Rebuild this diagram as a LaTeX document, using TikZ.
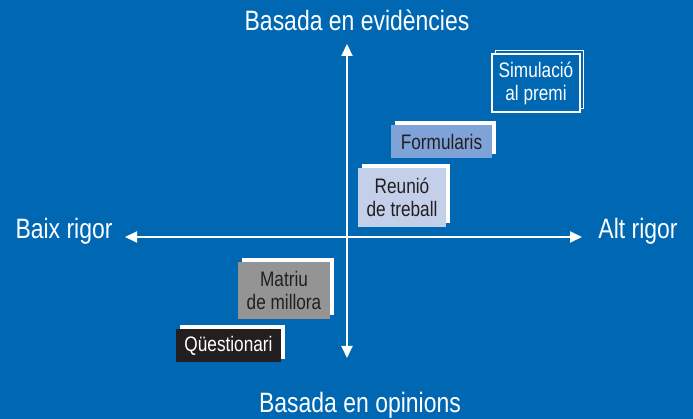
\documentclass[tikz,border=0pt]{standalone}
\usepackage{fontspec}
\setmainfont{Liberation Sans}[FakeStretch=0.82]
\usetikzlibrary{arrows.meta,shadows}
\definecolor{bg}{HTML}{0068B3}
\definecolor{formc}{HTML}{7FA2D8}
\definecolor{reunc}{HTML}{C4D0EA}
\definecolor{matc}{HTML}{949494}
\definecolor{darkc}{HTML}{231F20}
\newcommand{\axfont}{\fontsize{28}{30}\selectfont}
\newcommand{\bxfont}{\fontsize{21}{23}\selectfont}
\begin{document}
\begin{tikzpicture}[x=1pt,y=-1pt,
  axislabel/.style={text=white,font=\axfont,anchor=base,inner sep=0pt},
  qbox/.style={rectangle,inner sep=0pt,align=center,font=\bxfont,text=darkc,
    copy shadow={shadow xshift=3.5pt,shadow yshift=3.5pt,fill=white,draw=none}},
  axisline/.style={white,line width=2pt,{Triangle[length=12pt,width=11pt]}-{Triangle[length=12pt,width=11pt]}}
]
\fill[bg] (0,0) rectangle (693,419);
\useasboundingbox (0,0) rectangle (693,419);

\coordinate (top) at (347,44);
\coordinate (bot) at (347,358);
\coordinate (lft) at (125,237);
\coordinate (rgt) at (582,237);
\draw[axisline] (bot) -- (top);
\draw[axisline] (lft) -- (rgt);

\node[axislabel] (ev) at (357,31) {Basada en evidències};
\node[axislabel] (op) at (360,412) {Basada en opinions};
\node[axislabel] (baix) at (64,239) {Baix rigor};
\node[axislabel] (alt) at (638,239) {Alt rigor};

\node[qbox,fill=bg,draw=white,line width=1.2pt,text=white,
  copy shadow={shadow xshift=3.5pt,shadow yshift=3.5pt,fill=bg,draw=white,line width=1.2pt},
  minimum width=88pt,minimum height=58pt] (sim) at (536,83) {Simulació\\al premi};
\node[qbox,fill=formc,minimum width=101pt,minimum height=33pt] (form) at (441.5,141.5) {Formularis};
\node[qbox,fill=reunc,minimum width=88pt,minimum height=59pt] (reun) at (402,197.5) {Reunió\\de treball};
\node[qbox,fill=matc,minimum width=92pt,minimum height=57pt] (mat) at (284,290.5) {Matriu\\de millora};
\node[qbox,fill=darkc,text=white,minimum width=105pt,minimum height=33pt] (qu) at (228.5,345.5) {Qüestionari};
\end{tikzpicture}
\end{document}
